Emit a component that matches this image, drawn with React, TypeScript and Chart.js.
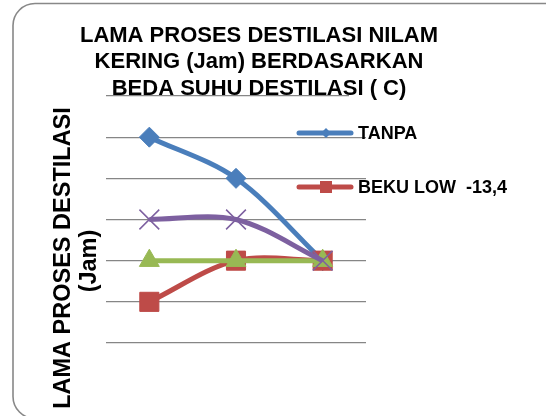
import React, { useEffect, useRef } from "react";
import { Chart, registerables } from "chart.js";

Chart.register(...registerables);

// ---- data ----
const categories = ["Suhu 1", "Suhu 2", "Suhu 3"];
const tanpa = [5, 4, 2];
const bekuLow = [1, 2, 2];
const seri3 = [3, 3, 2];
const seri4 = [2, 2, 2];
const seriesNames = ["TANPA", "BEKU LOW  -13,4", "Seri 3", "Seri 4"];
const yMin = 0;
const yMax = 6;
const yStep = 1;
const titleLines = [
  "LAMA PROSES DESTILASI NILAM",
  "KERING (Jam) BERDASARKAN",
  "BEDA SUHU DESTILASI ( C)",
];
const yTitleLines = ["LAMA PROSES DESTILASI", "(Jam)"];

const BLUE = "#4A7EBB";
const RED = "#BE4B48";
const PURPLE = "#7D60A0";
const GREEN = "#98B954";
const GRID = "#868686";
const FONT = "'Liberation Sans', Arial, sans-serif";

const decorPlugin = {
  id: "decor",
  beforeDraw(chart: any) {
    const ctx = chart.ctx;
    ctx.save();
    ctx.fillStyle = "#ffffff";
    ctx.fillRect(0, 0, chart.width, chart.height);
    // rounded border
    ctx.strokeStyle = "#888888";
    ctx.lineWidth = 1.6;
    ctx.beginPath();
    (ctx as any).roundRect(13, 3.5, 620, 415, 22);
    ctx.stroke();
    ctx.restore();
  },
  beforeDatasetsDraw(chart: any) {
    const ctx = chart.ctx;
    ctx.save();
    ctx.fillStyle = "#ffffff";
    ctx.fillRect(349, chart.chartArea.top - 3, 22, 6);
    ctx.restore();
  },
  afterDraw(chart: any) {
    const ctx = chart.ctx;
    ctx.save();
    ctx.fillStyle = "#000000";
    // title
    ctx.font = `bold 22px ${FONT}`;
    ctx.textAlign = "center";
    ctx.textBaseline = "alphabetic";
    const baselines = [42, 68, 95];
    titleLines.forEach((t, i) => ctx.fillText(t, 259, baselines[i]));
    // y axis title
    ctx.font = `bold 23.5px ${FONT}`;
    const ypos = [
      [70, 258],
      [96, 261],
    ];
    yTitleLines.forEach((t, i) => {
      ctx.save();
      ctx.translate(ypos[i][0], ypos[i][1]);
      ctx.rotate(-Math.PI / 2);
      ctx.fillText(t, 0, 0);
      ctx.restore();
    });
    // legend (first two series only)
    const legendItems = [
      { name: seriesNames[0], color: BLUE, y: 133, style: "diamond" },
      { name: seriesNames[1], color: RED, y: 187, style: "square" },
    ];
    legendItems.forEach((it) => {
      ctx.strokeStyle = it.color;
      ctx.fillStyle = it.color;
      ctx.lineWidth = 5;
      ctx.lineCap = "round";
      ctx.beginPath();
      ctx.moveTo(299, it.y);
      ctx.lineTo(351, it.y);
      ctx.stroke();
      ctx.beginPath();
      if (it.style === "diamond") {
        ctx.moveTo(326 - 5, it.y);
        ctx.lineTo(326, it.y - 5);
        ctx.lineTo(326 + 5, it.y);
        ctx.lineTo(326, it.y + 5);
        ctx.closePath();
      } else {
        ctx.rect(320, it.y - 6, 12, 12);
      }
      ctx.fill();
      ctx.fillStyle = "#000000";
      ctx.font = `bold 18px ${FONT}`;
      ctx.textAlign = "left";
      ctx.textBaseline = "middle";
      ctx.fillText(it.name, 358, it.y + 1);
    });
    ctx.restore();
  },
};

export default function App() {
  const ref = useRef<HTMLCanvasElement | null>(null);
  useEffect(() => {
    if (!ref.current) return;
    const common = {
      borderWidth: 5,
      tension: 0.33,
      pointBorderWidth: 1,
      fill: false,
    };
    const chart = new Chart(ref.current, {
      type: "line",
      data: {
        labels: categories,
        datasets: [
          {
            ...common,
            label: seriesNames[0],
            data: tanpa,
            borderColor: BLUE,
            backgroundColor: BLUE,
            pointStyle: "rectRot",
            pointRadius: 10,
            order: 3,
          },
          {
            ...common,
            label: seriesNames[1],
            data: bekuLow,
            borderColor: RED,
            backgroundColor: RED,
            pointStyle: "rect",
            pointRadius: 13.5,
            order: 2,
          },
          {
            ...common,
            label: seriesNames[2],
            data: seri3,
            borderColor: PURPLE,
            backgroundColor: PURPLE,
            pointStyle: "crossRot",
            pointRadius: 14,
            pointBorderWidth: 1.5,
            order: 0,
          },
          {
            ...common,
            label: seriesNames[3],
            data: seri4,
            borderColor: GREEN,
            backgroundColor: GREEN,
            pointStyle: "triangle",
            pointRadius: 11.5,
            order: 1,
          },
        ],
      },
      options: {
        responsive: false,
        animation: false,
        events: [],
        layout: { padding: { left: 106, right: 180, top: 96, bottom: 73 } },
        plugins: {
          legend: { display: false },
          title: { display: false },
          tooltip: { enabled: false },
        },
        scales: {
          x: {
            display: false,
            offset: true,
          },
          y: {
            display: true,
            min: yMin,
            max: yMax,
            ticks: { display: false, stepSize: yStep },
            grid: { color: GRID, lineWidth: 1.3, drawTicks: false, tickLength: 0 },
            border: { display: false },
            title: { display: false },
          },
        },
      },
      plugins: [decorPlugin],
    } as any);
    return () => chart.destroy();
  }, []);
  return (
    <div style={{ position: "absolute", left: 0, top: 0, width: 546, height: 416 }}>
      <canvas ref={ref} width={546} height={416} style={{ width: 546, height: 416, display: "block" }} />
    </div>
  );
}
